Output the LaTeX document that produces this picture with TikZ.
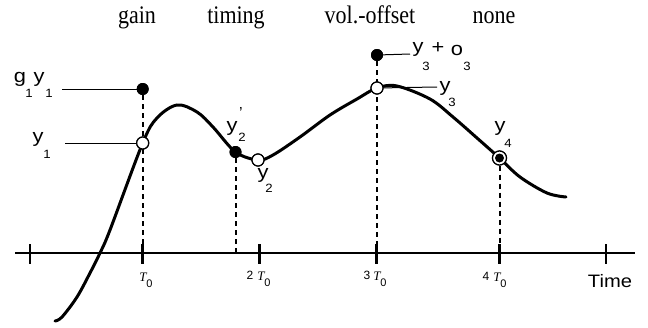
\documentclass[tikz,border=0pt]{standalone}
\usepackage{fontspec}
\setmainfont{Liberation Serif}
\setsansfont{Liberation Sans}
\begin{document}
\begin{tikzpicture}[x=1pt,y=-1pt,
  toplab/.style={font=\fontsize{22}{22}\selectfont, inner sep=0, anchor=base, yscale=1.15},
  lab/.style={font=\sffamily\fontsize{19}{19}\selectfont, inner sep=0, xscale=1.15},
  sublab/.style={font=\sffamily\fontsize{12}{12}\selectfont, inner sep=0, xscale=1.1},
  tlab/.style={font=\itshape\fontsize{13}{13}\selectfont, inner sep=0},
  dlab/.style={font=\sffamily\fontsize{12}{12}\selectfont, inner sep=0},
  zlab/.style={font=\sffamily\fontsize{11}{11}\selectfont, inner sep=0},
  bdot/.style={circle, fill=black, inner sep=0, minimum size=12pt},
  odot/.style={circle, draw=black, fill=white, line width=1.2pt, inner sep=0, minimum size=12pt},
  dsh/.style={line width=2pt, dash pattern=on 5pt off 4pt},
  axisline/.style={line width=2.5pt},
  tickline/.style={line width=2.5pt},
  leader/.style={line width=1pt},
  curveline/.style={line width=3pt, line cap=round}]
\useasboundingbox (0,0) rectangle (648,327);

% top labels
\node[toplab] (tgain) at (137,23) {gain};
\node[toplab] (ttim) at (236,23) {timing};
\node[toplab] (tvol) at (370,23) {vol.-offset};
\node[toplab] (tnone) at (494,23) {none};

% axis
\coordinate (a0) at (15,253);
\coordinate (a1) at (635,253);
\draw[axisline] (a0) -- (a1);
\foreach \x in {30,142.7,259.3,376.7,499.5,606}
  \draw[tickline] (\x,244) -- (\x,264);

% point nodes
\node[bdot] (g1) at (142.7,89) {};
\node[odot] (c1) at (142.7,143) {};
\node[bdot] (d2) at (235.5,152) {};
\node[odot] (c2) at (258,160) {};
\node[bdot] (o3) at (377,55) {};
\node[odot] (c3) at (377,88) {};
\node[odot, minimum size=14pt] (c4) at (499.5,158) {};

% dashed projections
\draw[dsh] (g1) -- (g1 |- a0);
\draw[dsh] (d2) -- (d2 |- a0);
\draw[dsh] (o3) -- (o3 |- a0);
\draw[dsh] (c4) -- (c4 |- a0);

% curve
\draw[curveline] plot[smooth, tension=0.55] coordinates {
 (55,321) (62,317) (77,297) (90,273) (100,253) (110,230) (142.7,143)
 (157,118) (177,105) (197,112) (213,127) (235.5,152) (258,160) (273,155)
 (300,137) (330,115) (357,99) (377,88) (397,86) (430,99) (453,117)
 (477,138) (499.5,158) (520,177) (547,193) (566,197)};

% redraw markers on top
\node[bdot] at (g1) {};
\node[odot] at (c1) {};
\node[bdot] at (d2) {};
\node[odot] at (c2) {};
\node[bdot] at (o3) {};
\node[odot] at (c3) {};
\node[odot, minimum size=14pt] at (c4) {};
\node[bdot, minimum size=9pt] (c4in) at (c4) {};

% leader lines
\coordinate (lg) at (62,89);
\coordinate (l1) at (65,143);
\coordinate (lo) at (410,54);
\coordinate (l3) at (437,87);
\draw[leader] (lg) -- (g1);
\draw[leader] (l1) -- (c1);
\draw[leader] (o3) -- (lo);
\draw[leader] (c3) -- (l3);

% labels
\node[lab] (Lg) at (20,79) {g};
\node[sublab] (Lgs) at (29,93) {1};
\node[lab] (Lgy) at (39,79) {y};
\node[sublab] (Lgys) at (49,93) {1};

\node[lab] (Ly1) at (38,139) {y};
\node[sublab] (Ly1s) at (47,154) {1};

\node[lab] (Ly2p) at (232,128) {y};
\node[sublab] (Ly2ps) at (242,137) {2};
\node[font=\sffamily\fontsize{16}{16}\selectfont, inner sep=0] (Ly2pp) at (241,113) {’};

\node[lab] (Ly2) at (263,175) {y};
\node[sublab] (Ly2s) at (269,188) {2};

\node[lab] (Ly3o) at (418,49) {y};
\node[sublab] (Ly3os) at (426,66) {3};
\node[lab] (Lplus) at (438,48) {+};
\node[lab] (Lo) at (457,50) {o};
\node[sublab] (Los) at (467,66) {3};

\node[lab] (Ly3) at (445,88) {y};
\node[sublab] (Ly3s) at (452,102) {3};

\node[lab] (Ly4) at (500,128) {y};
\node[sublab] (Ly4s) at (508,143) {4};

% tick labels
\node[tlab] (T1) at (143,277) {T};
\node[zlab] (T1s) at (149.5,284) {0};
\node[dlab] (D2) at (250,275) {2};
\node[tlab] (T2) at (261,276) {T};
\node[zlab] (T2s) at (267.5,283) {0};
\node[dlab] (D3) at (367,275) {3};
\node[tlab] (T3) at (377,276) {T};
\node[zlab] (T3s) at (383.5,283) {0};
\node[dlab] (D4) at (486,276) {4};
\node[tlab] (T4) at (497,277) {T};
\node[zlab] (T4s) at (503.5,284) {0};

\node[font=\sffamily\fontsize{18}{18}\selectfont, inner sep=0, xscale=1.12] (time) at (610,281) {Time};
\end{tikzpicture}
\end{document}
